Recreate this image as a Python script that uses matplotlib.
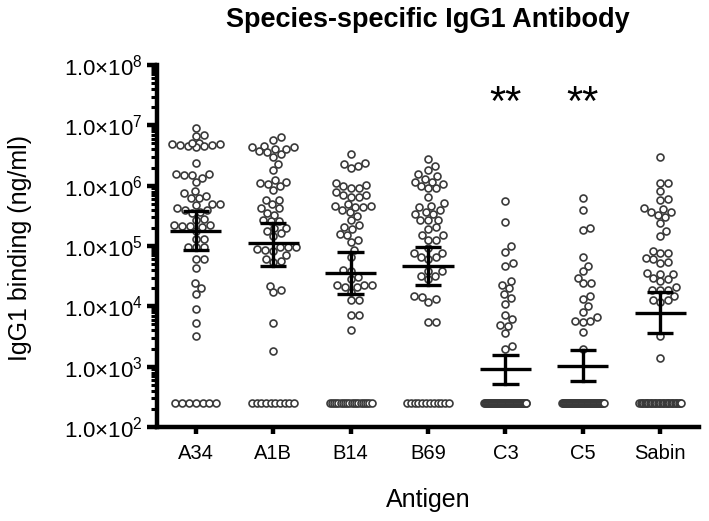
import numpy as np
import matplotlib.pyplot as plt
from matplotlib.ticker import LogLocator, NullFormatter, FixedLocator

plt.rcParams['font.family'] = ['Liberation Sans', 'DejaVu Sans']
plt.rcParams['mathtext.fontset'] = 'custom'
plt.rcParams['mathtext.rm'] = 'Liberation Sans'
plt.rcParams['mathtext.it'] = 'Liberation Sans:italic'
plt.rcParams['mathtext.bf'] = 'Liberation Sans:bold'

# antigens and per-antigen IgG1 values (ng/ml) above the detection limit
antigens = ['A34', 'A1B', 'B14', 'B69', 'C3', 'C5', 'Sabin']
lod = 250  # values below detection are plotted at this level

a34 = [9.0e6, 6.8e6, 6.7e6, 5.0e6, 4.9e6, 4.8e6, 4.6e6, 4.4e6, 4.6e6, 4.8e6, 4.9e6, 5.0e6,
       2.4e6, 1.55e6, 1.55e6, 1.5e6, 1.5e6, 1.36e6, 1.17e6, 8.2e5, 7.5e5, 6.8e5, 6.3e5, 6.3e5,
       5.0e5, 5.0e5, 4.8e5, 4.2e5, 4.0e5, 3.9e5, 3.7e5, 3.5e5, 2.8e5, 2.7e5,
       2.2e5, 2.15e5, 2.1e5, 2.15e5, 2.2e5, 1.75e5, 1.3e5, 1.3e5, 9.8e4, 9.6e4, 9.5e4,
       6.2e4, 6.0e4, 4.3e4, 2.4e4, 2.0e4, 1.6e4, 8.9e3, 5.2e3, 3.2e3]
a1b = [6.3e6, 5.7e6, 4.5e6, 4.3e6, 4.0e6, 3.6e6, 3.0e6, 3.3e6, 3.7e6, 4.1e6, 4.3e6,
       2.3e6, 1.8e6, 1.26e6, 1.1e6, 9.7e5, 1.06e6, 8.5e5, 1.17e6,
       5.8e5, 5.8e5, 4.9e5, 4.2e5, 4.2e5, 3.5e5, 3.3e5, 2.7e5, 2.6e5, 2.55e5, 2.0e5, 1.97e5,
       1.74e5, 1.62e5, 1.45e5, 9.8e4, 9.6e4, 8.5e4, 8.3e4, 8.8e4, 9.5e4, 7.1e4, 6.0e4, 5.6e4, 5.5e4,
       2.2e4, 1.7e4, 1.9e4, 5.2e3, 1.85e3]
b14 = [3.3e6, 2.3e6, 2.0e6, 2.1e6, 2.4e6, 1.1e6, 1.0e6, 9.1e5, 7.9e5, 9.3e5, 1.03e6,
       7.1e5, 6.4e5, 6.4e5, 7.0e5, 4.9e5, 4.6e5, 4.4e5, 3.6e5, 3.2e5, 4.0e5, 4.4e5, 4.6e5,
       2.2e5, 1.6e5, 1.9e5, 2.1e5, 2.7e5, 1.5e5, 1.26e5, 1.15e5, 8.6e4, 6.6e4,
       4.0e4, 3.9e4, 3.1e4, 2.3e4, 2.1e4, 1.75e4, 2.8e4, 2.1e4, 2.3e4, 2.3e4,
       1.28e4, 1.28e4, 7.2e3, 7.2e3, 4.0e3]
b69 = [2.75e6, 2.1e6, 1.8e6, 1.55e6, 1.47e6, 1.3e6, 1.17e6, 1.17e6, 1.07e6, 9.7e5, 9.1e5, 9.1e5,
       6.5e5, 5.1e5, 4.6e5, 4.4e5, 4.0e5, 3.7e5, 3.4e5, 3.4e5, 2.7e5, 2.7e5, 2.7e5,
       2.05e5, 1.9e5, 1.5e5, 1.5e5, 1.28e5, 1.28e5, 9.1e4, 7.7e4, 7.7e4, 6.5e4, 6.5e4, 6.0e4,
       3.8e4, 3.8e4, 3.2e4, 3.2e4, 2.8e4, 1.5e4, 1.2e4, 1.3e4, 1.45e4, 5.6e3, 5.6e3]
c3 = [5.5e5, 2.5e5, 1.0e5, 8.1e4, 4.7e4, 5.2e4, 2.3e4, 1.6e4, 2.0e4, 2.65e4, 1.35e4, 1.1e4,
      7.2e3, 6.1e3, 4.9e3, 3.6e3, 4.7e3, 2.2e3, 1.95e3]
c5 = [6.2e5, 4.0e5, 1.85e5, 2.0e5, 6.6e4, 4.7e4, 3.8e4, 2.45e4, 2.4e4, 3.0e4,
      1.5e4, 1.0e4, 1.3e4, 8.1e3, 5.8e3, 5.8e3, 5.4e3, 6.7e3, 3.8e3, 2.0e3]
sabin = [2.95e6, 1.12e6, 1.12e6, 8.2e5, 6.0e5, 5.8e5, 4.1e5, 3.7e5, 3.7e5, 4.2e5, 3.3e5, 3.0e5, 2.4e5,
         1.78e5, 1.48e5, 8.3e4, 7.8e4, 7.6e4, 6.3e4, 6.0e4, 5.5e4, 5.3e4,
         3.6e4, 3.5e4, 3.5e4, 2.95e4, 2.8e4, 2.6e4, 2.1e4, 1.9e4, 1.9e4, 1.9e4,
         1.5e4, 1.28e4, 1.26e4, 1.2e4, 3.2e3, 1.4e3]
lod_counts = [7, 10, 20, 12, 48, 50, 33]

# summary line (centre) with interval whiskers
centre = [1.8e5, 1.11e5, 3.6e4, 4.7e4, 906, 1030, 7.9e3]
lower = [8.6e4, 4.7e4, 1.6e4, 2.26e4, 516, 580, 3.66e3]
upper = [3.8e5, 2.39e5, 8.1e4, 9.8e4, 1560, 1890, 1.7e4]

groups = [a34, a1b, b14, b69, c3, c5, sabin]
stars = ['', '', '', '', '**', '**', '']

fig = plt.figure(figsize=(7.09, 5.21), dpi=100)
ax = fig.add_axes([157 / 709, 1 - 427 / 521, 542 / 709, 362 / 521])
ax.set_yscale('log')
ax.set_ylim(1e2, 1e8)
ax.set_xlim(-0.5, 6.5)

# pixel scales for laying out the swarm
pos = ax.get_position()
px_x = pos.width * fig.get_figwidth() * fig.dpi / 7
px_y = pos.height * fig.get_figheight() * fig.dpi / 6

dot = 7.6  # dot spacing in pixels
mk = dict(marker='o', ms=5.0, mfc='white', mec='#3a3a3a', mew=1.2, ls='none', zorder=2)


def swarm(vals, max_half=25):
    ys = np.log10(vals) * px_y
    order = np.argsort(ys)
    steps = np.arange(0, max_half + 0.25, 0.5)
    cands = [0.0]
    for s in steps[1:]:
        cands += [s, -s]
    placed = []
    xs = np.zeros(len(vals))
    for i in order:
        y = ys[i]
        best, bestd = 0.0, -1
        near = [(px, py) for px, py in placed if abs(py - y) < dot]
        for c in cands:
            md = min((np.hypot(c - px, y - py) for px, py in near), default=np.inf)
            if md >= dot:
                best = c
                break
            if md > bestd:
                bestd, best = md, c
        xs[i] = best
        placed.append((best, y))
    return xs / px_x


for i, vals in enumerate(groups):
    xs = i + swarm(vals)
    ax.plot(xs, vals, **mk)
    n = lod_counts[i]
    span = min((n - 1) * 6.8, 42) / px_x
    lx = i + np.linspace(-span / 2, span / 2, n)
    ax.plot(lx, [lod] * n, **mk)
    # median and whiskers
    ax.plot([i - 0.33, i + 0.33], [centre[i]] * 2, color='black', lw=2.4, zorder=3,
            solid_capstyle='butt')
    ax.plot([i, i], [lower[i], upper[i]], color='black', lw=2.4, zorder=3)
    for v in (lower[i], upper[i]):
        ax.plot([i - 0.17, i + 0.17], [v, v], color='black', lw=2.4, zorder=3,
                solid_capstyle='butt')
    if stars[i]:
        ax.text(i, 10 ** 7.36, stars[i], ha='center', va='center', fontsize=30)

ax.spines['top'].set_visible(False)
ax.spines['right'].set_visible(False)
ax.spines['left'].set_linewidth(3.2)
ax.spines['bottom'].set_linewidth(3.2)

ax.set_xticks(range(7))
ax.set_xticklabels(antigens, fontsize=14.5)
ax.tick_params(axis='x', length=5, width=3.2, pad=7)

decades = [10.0 ** k for k in range(2, 9)]
ax.yaxis.set_major_locator(FixedLocator(decades))
ax.set_yticklabels([r'$\mathregular{1.0{\times}10^{%d}}$' % k for k in range(2, 9)], fontsize=16)
ax.yaxis.set_minor_locator(LogLocator(base=10, subs=range(2, 10)))
ax.yaxis.set_minor_formatter(NullFormatter())
ax.tick_params(axis='y', which='major', length=7, width=3.2, pad=3)
ax.tick_params(axis='y', which='minor', length=4.5, width=2.2)

fig.text(428 / 709, 1 - 20 / 521, 'Species-specific IgG1 Antibody', ha='center', va='center',
         fontsize=19.5, fontweight='bold')
fig.text(20 / 709, 1 - 248 / 521, 'IgG1 binding (ng/ml)', ha='center', va='center',
         rotation=90, fontsize=18)
fig.text(428 / 709, 1 - 500 / 521, 'Antigen', ha='center', va='center', fontsize=18)

fig.savefig('out.png', dpi=100)
